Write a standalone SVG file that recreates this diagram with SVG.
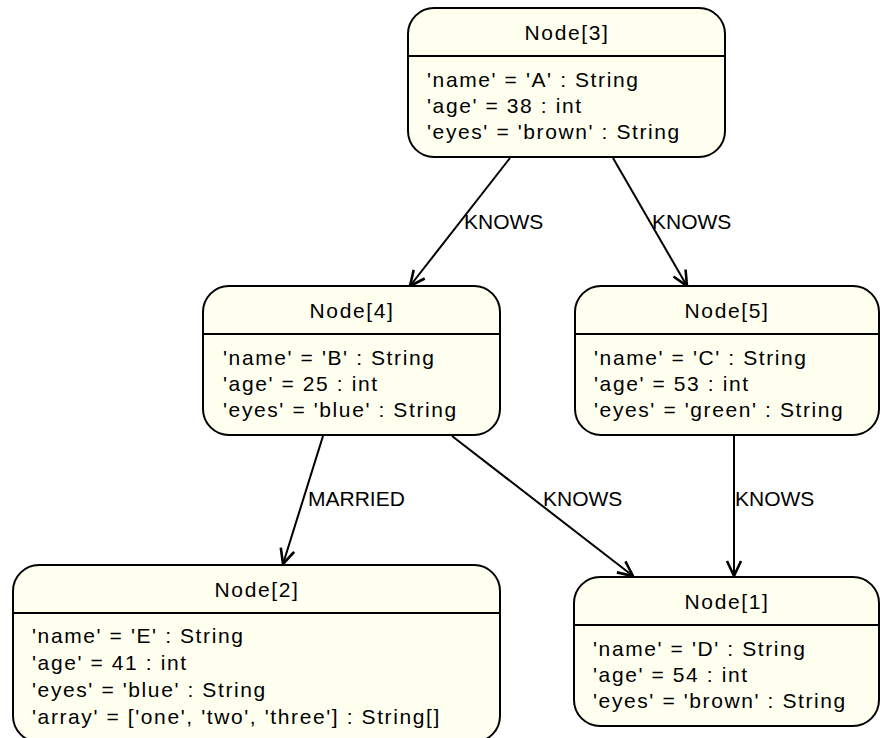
<svg xmlns="http://www.w3.org/2000/svg" width="880" height="738" viewBox="0 0 880 738">
<style>
.box{fill:#fffff0;stroke:#000;stroke-width:2}
.sep{stroke:#000;stroke-width:2}
.t{font-family:"Liberation Sans",Arial,sans-serif;font-size:21px;letter-spacing:1.6px;fill:#000}
.title{text-anchor:middle}
.lbl{font-family:"Liberation Sans",Arial,sans-serif;font-size:21px;fill:#000}
.edge{stroke:#000;stroke-width:2;fill:none;marker-end:url(#arr)}
</style>
<defs>
<marker id="arr" markerUnits="userSpaceOnUse" markerWidth="20" markerHeight="20" refX="0" refY="0" viewBox="-16 -10 20 20" orient="auto">
<path d="M -15 -7 L 0 0 L -15 7" fill="none" stroke="#000" stroke-width="2.6"/>
</marker>
</defs>
<rect width="880" height="738" fill="#fff"/>
<g id="edges">
<line class="edge" x1="510" y1="158" x2="410" y2="286"/>
<line class="edge" x1="613" y1="158" x2="687" y2="286"/>
<line class="edge" x1="323" y1="436" x2="283" y2="564"/>
<line class="edge" x1="452" y1="436" x2="633" y2="576"/>
<line class="edge" x1="734" y1="436" x2="734" y2="576"/>
<text class="lbl" x="464" y="229">KNOWS</text>
<text class="lbl" x="652" y="229">KNOWS</text>
<text class="lbl" x="308" y="506">MARRIED</text>
<text class="lbl" x="543" y="506">KNOWS</text>
<text class="lbl" x="735" y="506">KNOWS</text>
</g>
<g id="node3">
<rect class="box" x="408" y="8" width="317" height="149" rx="26"/>
<line class="sep" x1="408" y1="56" x2="725" y2="56"/>
<text class="t title" x="567" y="40">Node[3]</text>
<text class="t" x="427" y="87">'name' = 'A' : String</text>
<text class="t" x="427" y="113">'age' = 38 : int</text>
<text class="t" x="427" y="139">'eyes' = 'brown' : String</text>
</g>
<g id="node4">
<rect class="box" x="203" y="286" width="297" height="149" rx="26"/>
<line class="sep" x1="203" y1="334" x2="500" y2="334"/>
<text class="t title" x="352" y="318">Node[4]</text>
<text class="t" x="223" y="365">'name' = 'B' : String</text>
<text class="t" x="223" y="391">'age' = 25 : int</text>
<text class="t" x="223" y="417">'eyes' = 'blue' : String</text>
</g>
<g id="node5">
<rect class="box" x="575" y="286" width="304" height="149" rx="26"/>
<line class="sep" x1="575" y1="334" x2="879" y2="334"/>
<text class="t title" x="727" y="318">Node[5]</text>
<text class="t" x="594" y="365">'name' = 'C' : String</text>
<text class="t" x="594" y="391">'age' = 53 : int</text>
<text class="t" x="594" y="417">'eyes' = 'green' : String</text>
</g>
<g id="node1">
<rect class="box" x="574" y="577" width="305" height="149" rx="26"/>
<line class="sep" x1="574" y1="625" x2="879" y2="625"/>
<text class="t title" x="727" y="609">Node[1]</text>
<text class="t" x="593" y="656">'name' = 'D' : String</text>
<text class="t" x="593" y="682">'age' = 54 : int</text>
<text class="t" x="593" y="708">'eyes' = 'brown' : String</text>
</g>
<g id="node2">
<rect class="box" x="13" y="565" width="487" height="177" rx="26"/>
<line class="sep" x1="13" y1="613" x2="500" y2="613"/>
<text class="t title" x="257" y="597">Node[2]</text>
<text class="t" x="32" y="643">'name' = 'E' : String</text>
<text class="t" x="32" y="670">'age' = 41 : int</text>
<text class="t" x="32" y="697">'eyes' = 'blue' : String</text>
<text class="t" x="32" y="724">'array' = ['one', 'two', 'three'] : String[]</text>
</g>
</svg>
